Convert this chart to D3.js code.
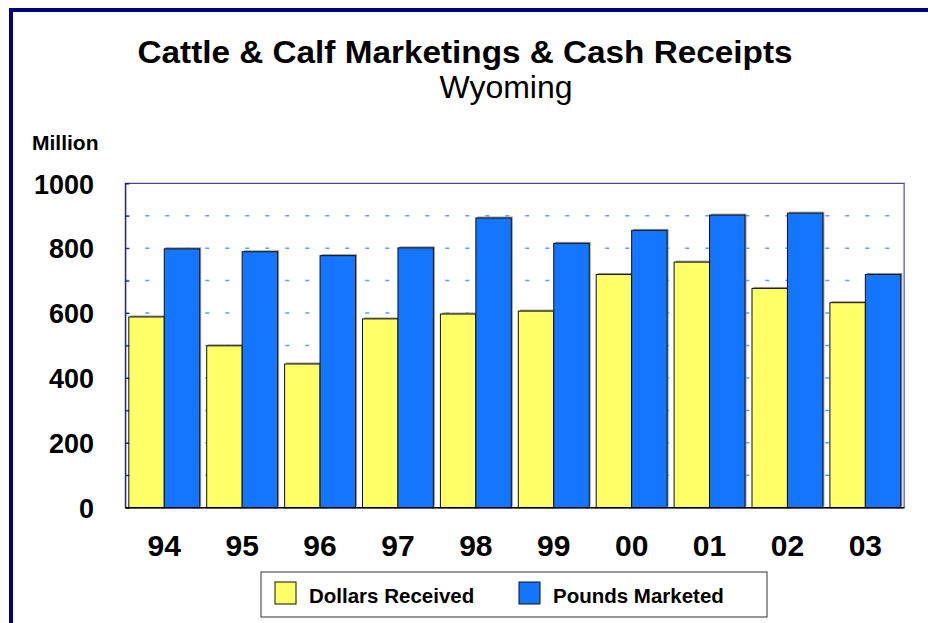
<!DOCTYPE html>
<html>
<head>
<meta charset="utf-8">
<script src="https://cdn.jsdelivr.net/npm/d3@7"></script>
<style>
body { margin: 0; background: white; }
text { font-family: "Liberation Sans", Arial, sans-serif; }
</style>
</head>
<body>
<svg width="928" height="623"></svg>
<script>
// data (million)
var years = ["94", "95", "96", "97", "98", "99", "00", "01", "02", "03"];
var dollars = [588, 499, 443, 582, 597, 606, 719, 757, 676, 632];
var pounds = [798, 789, 777, 801, 893, 815, 855, 902, 908, 719];
var yTicks = [0, 200, 400, 600, 800, 1000];
var gridTicks = [100, 200, 300, 400, 500, 600, 700, 800, 900];
var seriesNames = ["Dollars Received", "Pounds Marketed"];
var colors = ["#ffff66", "#1475ff"];

var svg = d3.select("svg");

// outer frame, runs off the right and bottom
svg.append("rect").attr("x", 11).attr("y", 10).attr("width", 940).attr("height", 640)
  .style("fill", "white").style("stroke", "#000080").style("stroke-width", 4);

var pLeft = 125.3, pRight = 904.3, pTop = 183.3, pBottom = 507.7;

var x = d3.scaleBand().domain(years).range([pLeft, pRight]).paddingInner(0.09).paddingOuter(0.045);
var xs = d3.scaleBand().domain([0, 1]).range([0, x.bandwidth()]);
var y = d3.scaleLinear().domain([0, 1000]).range([pBottom, pTop]);

// plot frame
svg.append("rect").attr("x", pLeft).attr("y", pTop).attr("width", pRight - pLeft).attr("height", pBottom - pTop)
  .style("fill", "white").style("stroke", "#1a1a70").style("stroke-width", 1);
svg.append("line").attr("x1", pRight).attr("x2", pRight).attr("y1", pTop).attr("y2", pBottom)
  .style("stroke", "#8080c0").style("stroke-width", 1.5);

// dashed gridlines
svg.append("g").selectAll("line").data(gridTicks).enter().append("line")
  .attr("x1", pLeft).attr("x2", pRight)
  .attr("y1", function(d){ return y(d); }).attr("y2", function(d){ return y(d); })
  .style("stroke", "#5c9cff").style("stroke-width", 1.5).style("stroke-dasharray", "4,16");

// bars
var groups = svg.append("g").selectAll("g").data(years).enter().append("g")
  .attr("transform", function(d){ return "translate(" + x(d) + ",0)"; });

[dollars, pounds].forEach(function(vals, s) {
  groups.append("rect")
    .attr("x", xs(s) + 1.5)
    .attr("y", function(d, i){ return y(vals[i]) - 1.5; })
    .attr("width", xs.bandwidth())
    .attr("height", function(d, i){ return pBottom - y(vals[i]); })
    .style("fill", "#999");
  groups.append("rect")
    .attr("x", xs(s))
    .attr("y", function(d, i){ return y(vals[i]); })
    .attr("width", xs.bandwidth())
    .attr("height", function(d, i){ return pBottom - y(vals[i]); })
    .style("fill", colors[s]).style("stroke", "#111").style("stroke-width", 1);
});

// left axis: inner minor ticks every 100
svg.append("g").attr("transform", "translate(" + pLeft + ",0)")
  .call(d3.axisRight(y).tickValues(gridTicks.concat([1000])).tickSize(4).tickFormat(""))
  .call(function(g){ g.select(".domain").attr("stroke", "#1a1a70"); g.selectAll("line").attr("stroke", "#1a1a70"); });

// bottom axis line
svg.append("line").attr("x1", pLeft).attr("x2", pRight).attr("y1", pBottom).attr("y2", pBottom)
  .style("stroke", "black").style("stroke-width", 1.5);

// y labels
svg.append("g").selectAll("text").data(yTicks).enter().append("text")
  .attr("x", 94).attr("y", function(d){ return y(d); }).attr("dy", "0.38em")
  .attr("text-anchor", "end").style("font-size", "27px").style("font-weight", "bold")
  .text(function(d){ return d; });

// x labels
svg.append("g").selectAll("text").data(years).enter().append("text")
  .attr("x", function(d){ return x(d) + x.bandwidth() / 2; }).attr("y", 556)
  .attr("text-anchor", "middle").style("font-size", "30px").style("font-weight", "bold")
  .text(function(d){ return d; });

// titles
svg.append("text").attr("x", 465).attr("y", 63).attr("text-anchor", "middle")
  .style("font-size", "31px").style("font-weight", "bold")
  .attr("textLength", 655).attr("lengthAdjust", "spacingAndGlyphs")
  .text("Cattle & Calf Marketings & Cash Receipts");
svg.append("text").attr("x", 506).attr("y", 98).attr("text-anchor", "middle")
  .style("font-size", "32px").text("Wyoming");
svg.append("text").attr("x", 32).attr("y", 150)
  .style("font-size", "21px").style("font-weight", "bold").text("Million");

// legend
svg.append("rect").attr("x", 261).attr("y", 572).attr("width", 506).attr("height", 45)
  .style("fill", "white").style("stroke", "#333").style("stroke-width", 1);
var legX = [275, 519];
seriesNames.forEach(function(n, i) {
  svg.append("rect").attr("x", legX[i]).attr("y", 582).attr("width", 21).attr("height", 22)
    .style("fill", colors[i]).style("stroke", "#111").style("stroke-width", 1);
  svg.append("text").attr("x", legX[i] + 34).attr("y", 603)
    .style("font-size", "20.5px").style("font-weight", "bold").text(n);
});
</script>
</body>
</html>
